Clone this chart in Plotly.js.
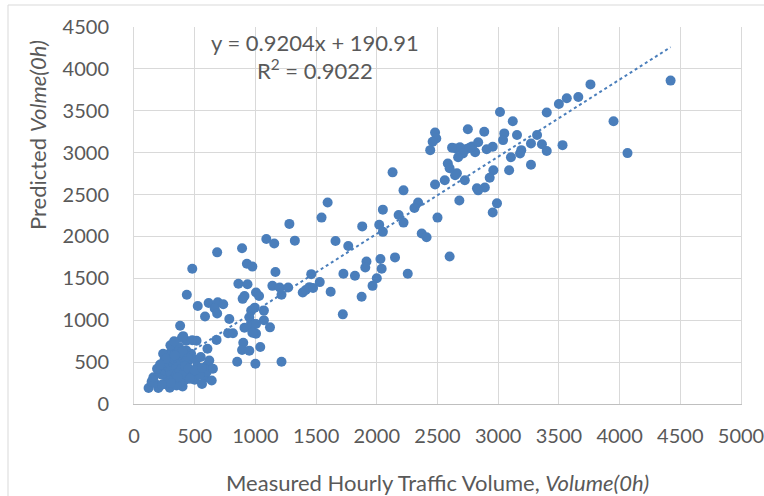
<!DOCTYPE html>
<html>
<head>
<meta charset="utf-8">
<script src="https://cdn.plot.ly/plotly-3.0.1.min.js"></script>
<style>html,body{margin:0;padding:0;background:#fff;}#chart{width:764px;height:496px;}</style>
</head>
<body>
<div id="chart"></div>
<script>
// Measured hourly traffic volume (x) and predicted volume (y)
const measured = [
  4420, 3950, 4065, 3760, 3660, 3565, 3500, 3400, 3530, 3320, 3270, 3360, 3400, 3270,
  3155, 3190, 3180, 3120, 3015, 3050, 3040, 3105, 3090, 2960, 2930, 2990, 2955, 2885,
  2750, 2905, 2955, 2890, 2825, 2835, 2835, 2810, 2785, 2740, 2765, 2685, 2650, 2620,
  2710, 2670, 2725, 2645, 2660, 2585, 2600, 2560, 2480, 2680, 2500, 2600, 2480, 2490,
  2460, 2440,
  2130, 1595, 1545, 2220, 2340, 2310, 2180, 2220, 2050, 2020, 2050, 1880, 1660, 1765,
  2370, 2410, 1915, 1905, 2030, 2040, 2150, 2255, 1725, 1820, 2000, 1965, 1875, 1720,
  1620, 1530, 1460, 1390, 1415, 1445, 1475,
  1280, 1090, 1155, 1325, 685, 890, 930, 975, 1165, 480, 860, 935, 1140, 1200, 1270,
  1215, 1005, 1030, 910, 895, 965, 995, 1070, 950, 965, 910, 975, 1005, 1070, 1120,
  1005, 975, 775, 815, 785, 585, 615, 690, 735, 665, 685, 525, 435, 900, 890, 950,
  1040, 850, 1000, 1215, 605, 680, 515, 430, 395, 380,
  120, 200, 145, 210, 240, 275, 295, 280, 310, 320, 340, 360, 400, 405, 420, 430,
  440, 455, 480, 500, 510, 520, 585, 600, 600, 170, 230, 250, 260, 300, 330, 350,
  370, 380, 390, 410, 250, 290, 320, 345, 370, 395, 420, 350, 450, 470, 480, 540,
  550, 560, 620, 640, 650, 230, 160, 270, 300, 330, 440, 500, 240, 360, 400, 460,
  190, 265, 215, 335, 305, 560
];
const predicted = [
  3860, 3375, 2995, 3815, 3665, 3650, 3580, 3480, 3090, 3210, 3110, 3100, 3020, 2855,
  3210, 3030, 2990, 3375, 3485, 3230, 3150, 2945, 2790, 2790, 2700, 2395, 2285, 3250,
  3280, 3040, 3070, 2585, 2575, 2550, 3125, 3005, 3075, 3045, 3060, 3065, 3050, 3060,
  2990, 2945, 2670, 2730, 2755, 2870, 2815, 2670, 2620, 2430, 2225, 1760, 3240, 3170,
  3130, 3030,
  2765, 2405, 2225, 2550, 2405, 2340, 2255, 2165, 2320, 2140, 2055, 2120, 1945, 1885,
  2035, 1990, 1700, 1630, 1730, 1615, 1750, 1555, 1555, 1530, 1500, 1410, 1280, 1070,
  1340, 1455, 1550, 1330, 1360, 1395, 1385,
  2150, 1970, 1915, 1950, 1810, 1860, 1675, 1640, 1575, 1615, 1435, 1430, 1410, 1390, 1390,
  1305, 1330, 1290, 1290, 1255, 1115, 1150, 1115, 1035, 970, 910, 935, 955, 1000, 915,
  840, 850, 845, 845, 1015, 1045, 1205, 1215, 1190, 1140, 1080, 1170, 1305, 730, 645, 635,
  680, 505, 480, 505, 660, 765, 755, 755, 790, 935,
  190, 190, 265, 385, 445, 565, 195, 320, 500, 625, 445, 590, 210, 810, 290, 640,
  500, 370, 760, 290, 525, 445, 315, 385, 460, 250, 350, 400, 250, 380, 300, 350,
  420, 260, 480, 380, 520, 600, 470, 520, 680, 560, 450, 220, 420, 600, 330, 350,
  560, 240, 520, 280, 420, 230, 320, 450, 700, 750, 570, 400, 600, 320, 630, 300,
  420, 540, 470, 580, 250, 430
];
const slope = 0.9204;
const intercept = 190.91;
const rSquared = 0.9022;
const xTicks = [0, 500, 1000, 1500, 2000, 2500, 3000, 3500, 4000, 4500, 5000];
const yTicks = [0, 500, 1000, 1500, 2000, 2500, 3000, 3500, 4000, 4500];

const blue = '#4a7ebb';
const grey = '#595959';
const font = 'Lato, "Open Sans", sans-serif';

const xMin = Math.min(...measured);
const xMax = Math.max(...measured);
const trendX = [xMin, xMax];
const trendY = trendX.map(v => slope * v + intercept);

const traces = [
  {
    type: 'scatter', mode: 'markers', x: measured, y: predicted,
    marker: {color: blue, size: 10, line: {width: 0}},
    hoverinfo: 'x+y', cliponaxis: false
  },
  {
    type: 'scatter', mode: 'lines', x: trendX, y: trendY,
    line: {color: blue, width: 2, dash: 'dot'},
    hoverinfo: 'skip'
  }
];

const pxX = p => (p - 134) / 607;
const pxY = p => (404 - p) / 377;

const layout = {
  width: 764, height: 496,
  margin: {l: 134, r: 23, t: 27, b: 92, pad: 0},
  paper_bgcolor: '#ffffff', plot_bgcolor: '#ffffff',
  showlegend: false,
  font: {family: font, color: grey},
  xaxis: {
    range: [0, 5000], tickvals: xTicks, ticktext: xTicks.map(String),
    showgrid: true, gridcolor: '#d9d9d9', gridwidth: 1,
    zeroline: false, showline: true, linecolor: '#bfbfbf', linewidth: 1,
    ticks: '', ticklabelstandoff: 14, ticklabeloverflow: 'allow',
    tickfont: {family: font, size: 20, color: grey}, fixedrange: true
  },
  yaxis: {
    range: [0, 4500], tickvals: yTicks, ticktext: yTicks.map(String),
    showgrid: true, gridcolor: '#d9d9d9', gridwidth: 1,
    zeroline: false, showline: true, mirror: true, linecolor: '#d9d9d9', linewidth: 1,
    ticks: '', ticklabelstandoff: 20,
    tickfont: {family: font, size: 20, color: grey}, fixedrange: true
  },
  annotations: [
    {
      xref: 'paper', yref: 'paper', x: 0.5, y: pxY(482), xanchor: 'center', yanchor: 'middle',
      text: 'Measured Hourly Traffic Volume, <i>Volume(0h)</i>', showarrow: false,
      font: {family: font, size: 22, color: grey}
    },
    {
      xref: 'paper', yref: 'paper', x: pxX(37), y: pxY(135), xanchor: 'center', yanchor: 'middle',
      text: 'Predicted <i>Volme(0h)</i>', textangle: -90, showarrow: false,
      font: {family: font, size: 22, color: grey}
    },
    {
      xref: 'paper', yref: 'paper', x: pxX(315), y: pxY(42), xanchor: 'center', yanchor: 'middle',
      text: 'y = ' + slope.toFixed(4) + 'x + ' + intercept.toFixed(2), showarrow: false,
      font: {family: font, size: 22, color: grey}
    },
    {
      xref: 'paper', yref: 'paper', x: pxX(315), y: pxY(69), xanchor: 'center', yanchor: 'middle',
      text: 'R<sup>2</sup> = ' + rSquared.toFixed(4), showarrow: false,
      font: {family: font, size: 22, color: grey}
    }
  ],
  shapes: [
    {
      type: 'rect', xref: 'paper', yref: 'paper',
      x0: pxX(8), x1: pxX(800), y0: pxY(540), y1: pxY(5),
      line: {color: '#d9d9d9', width: 1}, fillcolor: 'rgba(0,0,0,0)', layer: 'below'
    }
  ]
};

Plotly.newPlot('chart', traces, layout, {displayModeBar: false, staticPlot: true});
</script>
</body>
</html>
